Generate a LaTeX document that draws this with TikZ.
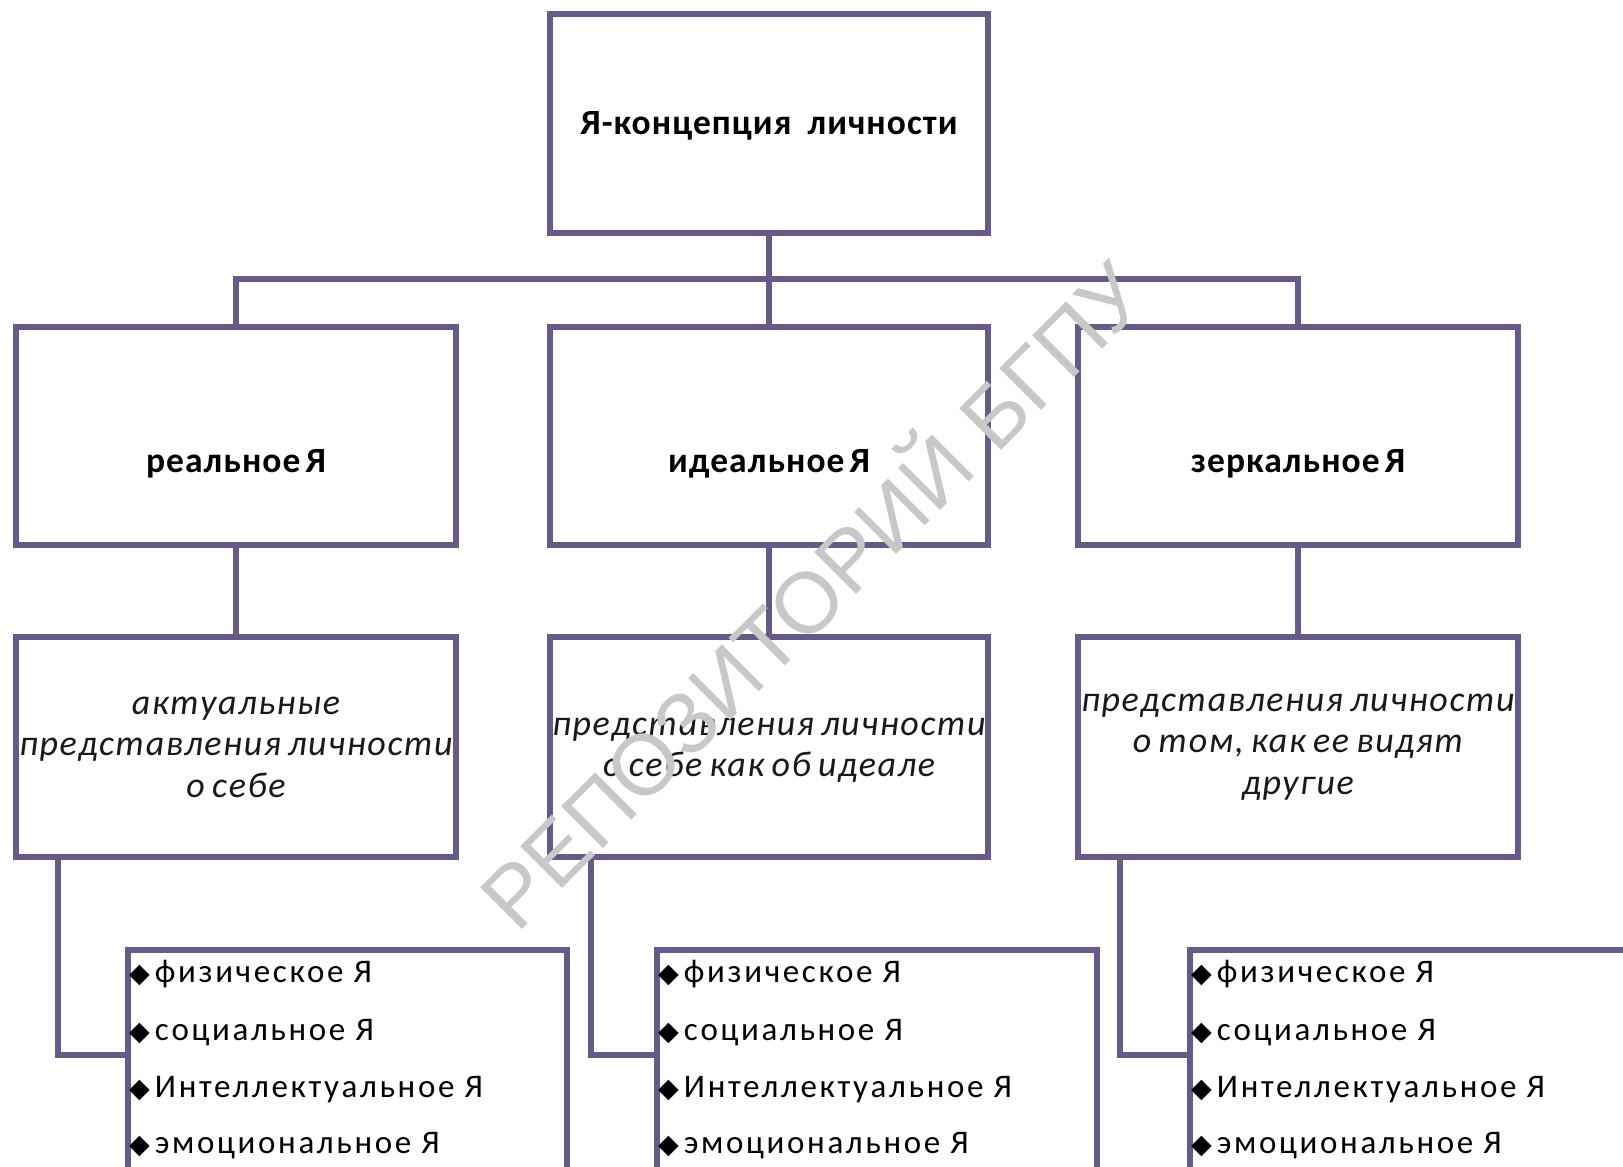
\documentclass[tikz,border=0pt]{standalone}
\usepackage{fontspec}
\setmainfont{Carlito}
\newfontfamily\djv{DejaVu Sans}
\newfontfamily\wmfont{Liberation Sans}
\newfontfamily\spacedfont{Carlito}[LetterSpace=8]
\newfontfamily\itspacedfont{Carlito}[LetterSpace=4.5,WordSpace=0.75]
\newfontfamily\bspacedfont{Carlito}[LetterSpace=3]
\usetikzlibrary{calc}
\definecolor{linec}{RGB}{103,90,138}
\definecolor{wmc}{RGB}{200,200,200}
\tikzset{
  frame/.style={draw=linec, line width=6pt, inner sep=0pt, minimum width=440pt, minimum height=219pt},
  listframe/.style={draw=linec, line width=6pt, inner sep=0pt, minimum width=440pt, minimum height=240pt},
  conn/.style={draw=linec, line width=6pt},
  boldtxt/.style={font=\bspacedfont\bfseries\fontsize{35.5}{40}\selectfont},
  ittxt/.style={font=\itspacedfont\itshape\fontsize{36}{41.5}\selectfont, align=center, text=black!90},
  itemtxt/.style={font=\spacedfont\fontsize{33}{38}\selectfont, inner sep=0pt, anchor=base west},
}
\newcommand{\dia}{{\djv\fontsize{27}{27}\selectfont ◆}\hspace{5pt}}
\begin{document}
\begin{tikzpicture}[x=1pt,y=-1pt]
\useasboundingbox (0,0) rectangle (1623,1167);
\clip (0,0) rectangle (1623,1167);
\fill[white] (0,0) rectangle (1623,1167);

% top
\node[frame, boldtxt, minimum width=438pt] (top) at (769,123.5) {\raisebox{-10.5pt}[0pt][0pt]{Я-концепция\hspace{16pt}личности}};

% row 1
\node[frame, boldtxt, minimum height=218pt] (r1L) at (236,436) {\raisebox{-36pt}[0pt][0pt]{реальное\hspace{5pt}Я}};
\node[frame, boldtxt, minimum height=218pt, minimum width=438pt] (r1M) at (769,436) {\raisebox{-36pt}[0pt][0pt]{идеальное\hspace{5pt}Я}};
\node[frame, boldtxt, minimum height=218pt] (r1R) at (1298,436) {\raisebox{-36pt}[0pt][0pt]{зеркальное\hspace{5pt}Я}};

% row 2
\node[frame, minimum height=220pt] (r2L) at (236,747) {};
\node[frame, minimum height=220pt, minimum width=438pt] (r2M) at (769,747) {};
\node[frame, minimum height=220pt] (r2R) at (1298,747) {};
\node[ittxt] (t2L) at (r2L.center) {актуальные\\представления личности\\о себе};
\node[ittxt] (t2M) at ($(r2M.center)+(0,3)$) {представления личности\\о себе как об идеале};
\node[ittxt] (t2R) at (r2R.center) {представления личности\\о том, как ее видят\\другие};

% list boxes
\node[listframe, minimum width=439pt] (lL) at (347.5,1070) {};
\node[listframe] (lM) at (877,1070) {};
\node[listframe] (lR) at (1410,1070) {};

% connectors
\coordinate (bus) at (768,279);
\draw[conn] (top.south) -- (r1M.north);
\draw[conn] (r1L.north) -- (r1L.north |- bus) -| (r1R.north);
\draw[conn] (r1L.south) -- (r2L.north);
\draw[conn] (r1M.south) -- (r2M.north);
\draw[conn] (r1R.south) -- (r2R.north);
\draw[conn] ($(r2L.south west)+(45,0)$) |- ($(lL.north west)+(0,108)$);
\draw[conn] ($(r2M.south west)+(44,0)$) |- ($(lM.north west)+(0,108)$);
\draw[conn] ($(r2R.south west)+(45,0)$) |- ($(lR.north west)+(0,108)$);

% list items
\foreach \b in {lL,lM,lR}{
  \node[itemtxt] (\b1) at ($(\b.north west)+(4,35)$) {\dia физическое Я};
  \node[itemtxt] (\b2) at ($(\b.north west)+(4,93)$) {\dia социальное Я};
  \node[itemtxt] (\b3) at ($(\b.north west)+(4,150)$) {\dia Интеллектуальное Я};
  \node[itemtxt] (\b4) at ($(\b.north west)+(4,206)$) {\dia эмоциональное Я};
}

% watermark
\node[rotate=45, text=wmc, font=\wmfont\fontsize{86}{86}\selectfont, inner sep=0pt] (wm) at (807,590) {РЕПОЗИТОРИЙ БГПУ};
\end{tikzpicture}
\end{document}
